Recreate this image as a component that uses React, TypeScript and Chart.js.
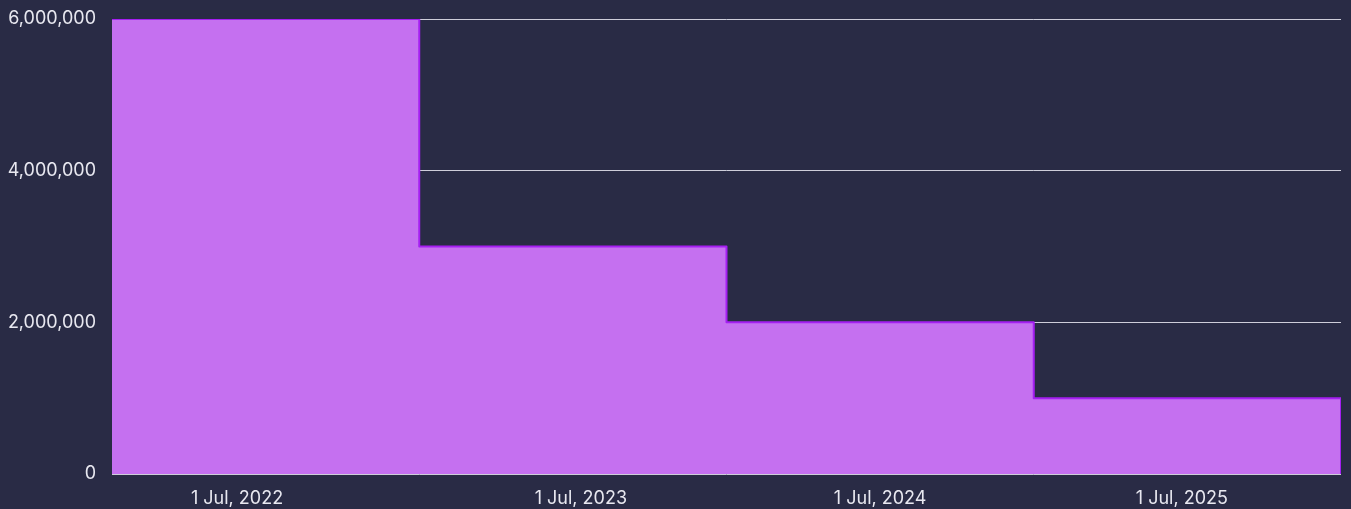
import React, { useEffect, useRef } from "react";
import { Chart, registerables } from "chart.js";

Chart.register(...registerables);

// Step periods (index of each step boundary) and the value held from that boundary on
const stepIndex = [0, 1, 2, 3, 4];
const stepValues = [6000000, 3000000, 2000000, 1000000, 0];

// X axis tick positions (in step-index units) and their labels
const xTickPositions = [0.407, 1.526, 2.5, 3.482];
const xTickLabels = ["1 Jul, 2022", "1 Jul, 2023", "1 Jul, 2024", "1 Jul, 2025"];

// Y axis ticks
const yTickValues = [0, 2000000, 4000000, 6000000];

const BG = "#292b45";
const FONT = "Inter, 'Noto Sans', sans-serif";

export default function App() {
  const ref = useRef<HTMLCanvasElement | null>(null);

  useEffect(() => {
    document.body.style.margin = "0";
    document.body.style.background = BG;
    const canvas = ref.current;
    if (!canvas) return;
    const chart = new Chart(canvas, {
      type: "line",
      data: {
        datasets: [
          {
            data: stepIndex.map((x, i) => ({ x, y: stepValues[i] })),
            stepped: true,
            fill: "origin",
            backgroundColor: "#c570f0",
            borderColor: "#a51ff2",
            borderWidth: 2,
            borderJoinStyle: "round",
            pointRadius: 0,
            pointHoverRadius: 0,
          },
        ],
      },
      options: {
        animation: false,
        responsive: true,
        maintainAspectRatio: false,
        layout: { padding: { left: 8, right: 10, top: 19, bottom: 0 } },
        plugins: { legend: { display: false }, tooltip: { enabled: false } },
        scales: {
          x: {
            type: "linear",
            min: stepIndex[0],
            max: stepIndex[stepIndex.length - 1],
            afterBuildTicks: (axis: any) => {
              axis.ticks = xTickPositions.map((v) => ({ value: v }));
            },
            afterFit: (axis: any) => {
              axis.height = 35;
              axis.paddingLeft = 0;
              axis.paddingRight = 0;
            },
            grid: { display: false, drawTicks: false },
            border: { display: false },
            ticks: {
              autoSkip: false,
              maxRotation: 0,
              padding: 14,
              color: "#e8e8f0",
              font: { family: FONT, size: 18 },
              callback: (_v: any, i: number) => xTickLabels[i],
            },
          },
          y: {
            min: 0,
            max: yTickValues[yTickValues.length - 1],
            z: 1,
            afterBuildTicks: (axis: any) => {
              axis.ticks = yTickValues.map((v) => ({ value: v }));
            },
            afterFit: (axis: any) => {
              axis.width = 104;
              axis.paddingTop = 0;
              axis.paddingBottom = 0;
            },
            grid: { color: "rgba(235,235,245,0.85)", lineWidth: 1, drawTicks: false },
            border: { display: false },
            ticks: {
              padding: 16,
              color: "#e8e8f0",
              font: { family: FONT, size: 18 },
              callback: (v: any) => Number(v).toLocaleString("en-US"),
            },
          },
        },
      },
    });
    return () => chart.destroy();
  }, []);

  return (
    <div style={{ width: 1351, height: 509, position: "relative", background: BG }}>
      <canvas ref={ref} />
    </div>
  );
}
